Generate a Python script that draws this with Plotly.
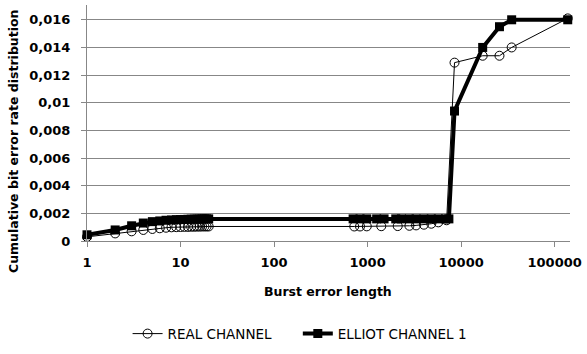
import plotly.graph_objects as go

# Burst error length (x) and cumulative bit error rate (y) for each channel
real_len = [1, 2, 3, 4, 5, 6, 7, 8, 9, 10, 11, 12, 13, 14, 15, 16, 17, 18, 19, 20,
            720, 830, 980, 1400, 2100, 2800, 3300, 4000, 4800, 5700, 7000,
            8500, 17000, 25700, 34700, 138000]
real_ber = [0.0003, 0.00055, 0.0007, 0.0008, 0.00087, 0.00092, 0.00096, 0.00099, 0.001, 0.00101,
            0.00102, 0.00102, 0.00103, 0.00103, 0.00104, 0.00104, 0.00105, 0.00105, 0.00105, 0.00105,
            0.00105, 0.00105, 0.00106, 0.00107, 0.00108, 0.0011, 0.00113, 0.00118, 0.00125, 0.00135, 0.0015,
            0.0129, 0.0134, 0.0134, 0.014, 0.0161]

elliot_len = [1, 2, 3, 4, 5, 6, 7, 8, 9, 10, 11, 12, 13, 14, 15, 16, 17, 18, 19, 20,
              700, 830, 980, 1250, 1500, 2000, 2300, 2800, 3300, 4000, 4800, 5700, 6800, 7400,
              8500, 17000, 25700, 34700, 138000]
elliot_ber = [0.00045, 0.0008, 0.0011, 0.0013, 0.0014, 0.00145, 0.0015, 0.00152, 0.00154, 0.00155,
              0.00156, 0.00157, 0.00158, 0.00158, 0.00159, 0.00159, 0.0016, 0.0016, 0.0016, 0.0016,
              0.0016, 0.0016, 0.0016, 0.0016, 0.0016, 0.0016, 0.0016, 0.0016, 0.0016, 0.0016,
              0.0016, 0.0016, 0.0016, 0.0016,
              0.0094, 0.014, 0.0155, 0.016, 0.016]

x_tickvals = [1, 10, 100, 1000, 10000, 100000]
x_ticktext = ["1", "10", "100", "1000", "10000", "100000"]
y_tickvals = [0, 0.002, 0.004, 0.006, 0.008, 0.01, 0.012, 0.014, 0.016]
y_ticktext = ["0", "0,002", "0,004", "0,006", "0,008", "0,01", "0,012", "0,014", "0,016"]

GRID = "#878787"
TICK_FONT = dict(family="DejaVu Sans", size=13, color="black", weight="bold")

fig = go.Figure()
fig.add_trace(go.Scatter(
    x=real_len, y=real_ber, name="REAL CHANNEL", mode="lines+markers",
    line=dict(color="black", width=1),
    marker=dict(symbol="circle-open", size=9, color="black", line=dict(width=1)),
    cliponaxis=False, legend="legend", showlegend=True,
))
fig.add_trace(go.Scatter(
    x=elliot_len, y=elliot_ber, name="ELLIOT CHANNEL 1", mode="lines+markers",
    line=dict(color="black", width=4),
    marker=dict(symbol="square", size=9, color="black"),
    cliponaxis=False, legend="legend2", showlegend=True,
))

legend_common = dict(orientation="h", yanchor="middle", xanchor="left",
                     font=dict(family="DejaVu Sans", size=13.5, color="black"),
                     bgcolor="rgba(0,0,0,0)", itemwidth=30, visible=True)

fig.update_layout(
    width=587, height=354,
    showlegend=True,
    margin=dict(l=87, r=12, t=5, b=110),
    paper_bgcolor="white", plot_bgcolor="white",
    xaxis=dict(type="log", range=[0, 5.164], tickvals=x_tickvals, ticktext=x_ticktext,
               showgrid=False, showline=True, linecolor=GRID, linewidth=1,
               ticks="outside", ticklen=5, tickcolor=GRID, tickfont=TICK_FONT,
               ticklabelstandoff=4, zeroline=False),
    yaxis=dict(range=[0, 0.01707], tickvals=y_tickvals, ticktext=y_ticktext,
               showgrid=True, gridcolor=GRID, gridwidth=1,
               showline=True, linecolor=GRID, linewidth=1,
               ticks="outside", ticklen=5, tickcolor=GRID, tickfont=TICK_FONT,
               ticklabelstandoff=8, zeroline=False),
    legend=dict(x=(128 - 87) / 488, y=(244 - 338) / 239, **legend_common),
    legend2=dict(x=(300 - 87) / 488, y=(244 - 338) / 239, **legend_common),
    annotations=[
        dict(text="Cumulative bit error rate distribution", textangle=-90,
             xref="paper", yref="paper", x=(13 - 87) / 488, y=(244 - 143) / 239,
             xanchor="center", yanchor="middle", showarrow=False,
             font=dict(family="DejaVu Sans", size=12.5, color="black", weight="bold")),
        dict(text="Burst error length",
             xref="paper", yref="paper", x=(330 - 87) / 488, y=(244 - 295) / 239,
             xanchor="center", yanchor="middle", showarrow=False,
             font=dict(family="DejaVu Sans", size=12.5, color="black", weight="bold")),
    ],
)

fig.write_html("out.html")
